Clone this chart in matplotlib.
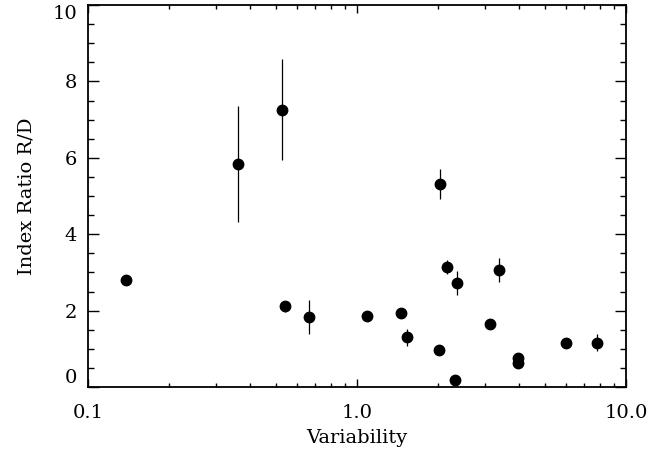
import matplotlib
matplotlib.use("Agg")
import matplotlib.pyplot as plt
from matplotlib.ticker import FixedLocator, FixedFormatter, MultipleLocator, LogLocator, NullFormatter

variability = [0.138, 0.362, 0.528, 0.540, 0.661, 1.092, 1.458, 1.538, 2.012, 2.035,
               2.166, 2.314, 2.348, 3.114, 3.364, 3.958, 3.958, 5.98, 7.82]
ratio = [2.80, 5.84, 7.26, 2.11, 1.83, 1.85, 1.93, 1.30, 0.98, 5.31,
         3.14, 0.18, 2.72, 1.64, 3.07, 0.75, 0.64, 1.16, 1.16]
ratio_err = [0.0, 1.52, 1.32, 0.15, 0.45, 0.0, 0.0, 0.22, 0.0, 0.40,
             0.18, 0.0, 0.32, 0.0, 0.31, 0.0, 0.0, 0.0, 0.23]

x_ticks = [0.1, 1.0, 10.0]
x_tick_labels = ["0.1", "1.0", "10.0"]
y_ticks = [0, 2, 4, 6, 8, 10]
y_tick_labels = ["0", "2", "4", "6", "8", "10"]

plt.rcParams['font.family'] = ['DejaVu Serif']

fig = plt.figure(figsize=(6.63, 4.54), dpi=100)
ax = fig.add_axes([88/663, 1-387/454, (626-88)/663, (387-5)/454])

ax.errorbar(variability, ratio, yerr=ratio_err, fmt='o', color='black',
            markersize=7.5, elinewidth=0.9, capsize=0, ecolor='black')

ax.set_xscale('log')
ax.set_xlim(0.1, 10)
ax.set_ylim(0, 10)
ax.xaxis.set_major_locator(FixedLocator(x_ticks))
ax.xaxis.set_major_formatter(FixedFormatter(x_tick_labels))
ax.xaxis.set_minor_locator(LogLocator(base=10, subs=range(2, 10)))
ax.xaxis.set_minor_formatter(NullFormatter())
ax.yaxis.set_major_locator(FixedLocator(y_ticks))
ax.yaxis.set_major_formatter(FixedFormatter(y_tick_labels))
ax.yaxis.set_minor_locator(MultipleLocator(0.5))

ax.tick_params(axis='both', which='both', direction='in', top=True, right=True,
               labelsize=14, width=1.0, colors='black')
ax.tick_params(axis='y', which='major', length=8)
ax.tick_params(axis='y', which='minor', length=4.3)
ax.tick_params(axis='x', which='major', length=6)
ax.tick_params(axis='x', which='minor', length=3)
ax.tick_params(axis='x', which='major', pad=12)
ax.tick_params(axis='y', which='major', pad=8)
for s in ax.spines.values():
    s.set_linewidth(1.3)

ax.set_xlabel('Variability', fontsize=14, labelpad=5)
ax.set_ylabel('Index Ratio R/D', fontsize=14, labelpad=12)

fig.canvas.draw()
ylabels = ax.get_yticklabels()
ylabels[0].set_va('bottom')
ylabels[-1].set_va('top')

fig.savefig('out.png', dpi=100)
